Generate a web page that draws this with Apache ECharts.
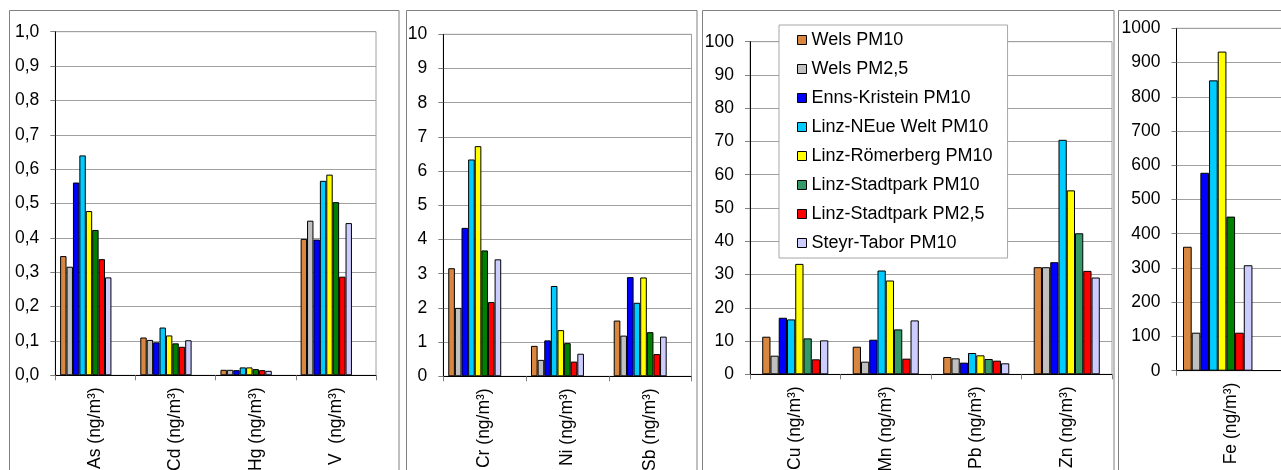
<!DOCTYPE html>
<html>
<head>
<meta charset="utf-8">
<script src="https://cdn.jsdelivr.net/npm/echarts@6/dist/echarts.min.js"></script>
<style>
  html, body { margin: 0; padding: 0; background: #fff; }
  #chart { width: 1281px; height: 470px; }
</style>
</head>
<body>
<div id="chart"></div>
<script>
// Monitoring stations (one bar colour each)
const stations = ['Wels PM10', 'Wels PM2,5', 'Enns-Kristein PM10', 'Linz-NEue Welt PM10',
  'Linz-Römerberg PM10', 'Linz-Stadtpark PM10', 'Linz-Stadtpark PM2,5', 'Steyr-Tabor PM10'];

// Category labels of the four panels
const catsA = ['As (ng/m³)', 'Cd (ng/m³)', 'Hg (ng/m³)', 'V  (ng/m³)'];
const catsB = ['Cr (ng/m³)', 'Ni (ng/m³)', 'Sb (ng/m³)'];
const catsC = ['Cu (ng/m³)', 'Mn (ng/m³)', 'Pb (ng/m³)', 'Zn (ng/m³)'];
const catsD = ['Fe (ng/m³)'];

// Mean concentrations per element, in station order
const As = [0.347, 0.316, 0.561, 0.640, 0.478, 0.423, 0.338, 0.285];
const Cd = [0.110, 0.103, 0.096, 0.139, 0.116, 0.093, 0.083, 0.102];
const Hg = [0.016, 0.016, 0.015, 0.023, 0.023, 0.018, 0.015, 0.013];
const V  = [0.397, 0.450, 0.395, 0.566, 0.584, 0.504, 0.287, 0.443];
const Cr = [3.16, 2.00, 4.34, 6.34, 6.73, 3.68, 2.17, 3.42];
const Ni = [0.89, 0.48, 1.05, 2.64, 1.35, 0.97, 0.43, 0.66];
const Sb = [1.63, 1.19, 2.90, 2.15, 2.89, 1.29, 0.65, 1.16];
const Cu = [11.3, 5.6, 17.0, 16.5, 33.2, 10.8, 4.5, 10.2];
const Mn = [8.3, 3.8, 10.4, 31.2, 28.2, 13.5, 4.7, 16.2];
const Pb = [5.2, 4.8, 3.5, 6.4, 5.7, 4.6, 4.1, 3.3];
const Zn = [32.2, 32.2, 33.7, 70.5, 55.3, 42.4, 31.1, 29.1];
const Fe = [362, 111, 578, 848, 932, 450, 111, 308];

// Styling
const FONT = "'Liberation Sans', Arial, sans-serif";
const baseColors = ['#D9863F', '#C0C0C0', '#0000FF', '#00CCFF', '#FFFF00', '#008000', '#FF0000', '#CCCCFF'];
const panelCColors = ['#D9863F', '#C0C0C0', '#0000FF', '#00CCFF', '#FFFF00', '#339966', '#FF0000', '#CCCCFF'];

// Panel layout: plot rectangles, axis ranges, and how many empty station slots
// follow the eight stations (those slots keep the bar groups shifted left).
const panels = [
  { cats: catsA, elems: [As, Cd, Hg, V], left: 55.3, top: 31.7, width: 320.7, height: 343.6,
    max: 1, interval: 0.1, fmt: v => v.toFixed(1).replace('.', ','), reserved: 3, gap: '12%', colors: baseColors },
  { cats: catsB, elems: [Cr, Ni, Sb], left: 443.3, top: 34.3, width: 248.2, height: 342,
    max: 10, interval: 1, fmt: v => String(v), reserved: 3, gap: '12%', colors: baseColors },
  { cats: catsC, elems: [Cu, Mn, Pb, Zn], left: 750, top: 41.7, width: 362, height: 332.6,
    max: 100, interval: 10, fmt: v => String(v), reserved: 0, gap: '27%', colors: panelCColors },
  { cats: catsD, elems: [Fe], left: 1176.5, top: 28.3, width: 108.5, height: 342.4,
    max: 1000, interval: 100, fmt: v => String(v), reserved: 3, gap: '12%', colors: baseColors }
];

// Outer frames around each panel
const frames = [
  { x: 9.5, y: 10.5, w: 389.5 },
  { x: 406.5, y: 10.5, w: 290.5 },
  { x: 702.5, y: 10.5, w: 411.5 },
  { x: 1118.5, y: 10.5, w: 200 }
];

const grids = [], xAxes = [], yAxes = [], series = [];

panels.forEach((p, k) => {
  grids.push({
    left: p.left, top: p.top, width: p.width, height: p.height,
    show: true, borderColor: '#a0a0a0', borderWidth: 1, backgroundColor: 'transparent',
    containLabel: false, outerBoundsMode: 'none'
  });
  xAxes.push({
    type: 'category', gridIndex: k, data: p.cats,
    axisLine: { show: true, lineStyle: { color: '#000', width: 1 } },
    axisTick: { show: true, length: 5, lineStyle: { color: '#808080' } },
    axisLabel: { interval: 0, rotate: 90, margin: 12, color: '#000', fontSize: 17.5, fontFamily: FONT },
    splitLine: { show: false }
  });
  yAxes.push({
    type: 'value', gridIndex: k, min: 0, max: p.max, interval: p.interval,
    axisLine: { show: true, lineStyle: { color: '#000', width: 1 } },
    axisTick: { show: true, length: 5, lineStyle: { color: '#808080' } },
    axisLabel: { margin: 16, color: '#000', fontSize: 17.5, fontFamily: FONT, formatter: p.fmt },
    splitLine: { show: true, lineStyle: { color: '#a0a0a0', width: 1 } }
  });
  stations.forEach((name, i) => {
    series.push({
      type: 'bar', name: name, xAxisIndex: k, yAxisIndex: k,
      data: p.elems.map(e => e[i]),
      barGap: '0%', barCategoryGap: p.gap,
      itemStyle: { color: p.colors[i], borderColor: '#000', borderWidth: 1 },
      emphasis: { disabled: true }, animation: false
    });
  });
  for (let r = 0; r < p.reserved; r++) {
    series.push({
      type: 'bar', name: 'reserve ' + k + '-' + r, xAxisIndex: k, yAxisIndex: k,
      data: p.cats.map(() => null),
      barGap: '0%', barCategoryGap: p.gap, animation: false
    });
  }
});

const chart = echarts.init(document.getElementById('chart'), null, { renderer: 'canvas' });
chart.setOption({
  backgroundColor: '#fff',
  animation: false,
  textStyle: { fontFamily: FONT },
  grid: grids,
  xAxis: xAxes,
  yAxis: yAxes,
  series: series,
  legend: {
    orient: 'vertical', left: 779, top: 25,
    padding: [6, 15, 6, 18], itemGap: 11, itemWidth: 9, itemHeight: 9,
    backgroundColor: '#fff', borderColor: '#a6a6a6', borderWidth: 1, borderRadius: 0,
    selectedMode: false,
    textStyle: { fontSize: 18, fontFamily: FONT, color: '#000' },
    data: stations.map((n, i) => ({
      name: n, icon: 'rect',
      itemStyle: { color: panelCColors[i], borderColor: '#000', borderWidth: 1 }
    }))
  },
  graphic: frames.map(f => ({
    type: 'rect', silent: true, z: -1,
    shape: { x: f.x, y: f.y, width: f.w, height: 500 },
    style: { fill: 'none', stroke: '#808080', lineWidth: 1 }
  }))
});
</script>
</body>
</html>
